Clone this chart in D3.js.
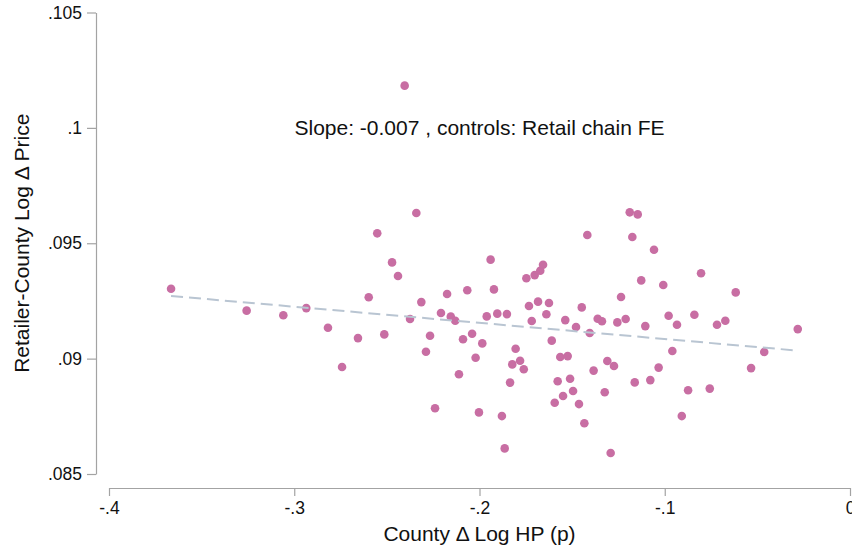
<!DOCTYPE html>
<html>
<head>
<meta charset="utf-8">
<script src="https://cdn.jsdelivr.net/npm/d3@7"></script>
<style>
  html, body { margin: 0; padding: 0; background: #ffffff; }
  svg { display: block; font-family: "Liberation Sans", Arial, sans-serif; }
</style>
</head>
<body>
<svg id="chart" width="852" height="551"></svg>
<script>
// County-level change in log house prices (x) vs retailer-county log price change (y)
const hpChange = [
  -0.3665, -0.3257, -0.3059, -0.2935, -0.2818, -0.2656, -0.2514, -0.2742, -0.2598, -0.2552,
  -0.2472, -0.2440, -0.2404, -0.2341, -0.2375, -0.2314, -0.2267, -0.2289, -0.2240, -0.2208,
  -0.2175, -0.2155, -0.2131, -0.2111, -0.2089, -0.2066, -0.2040, -0.2021, -0.2003, -0.1985,
  -0.1961, -0.1940, -0.1922, -0.1904, -0.1879, -0.1864, -0.1852, -0.1835, -0.1823, -0.1805,
  -0.1781, -0.1761, -0.1747, -0.1733, -0.1718, -0.1702, -0.1684, -0.1672, -0.1657, -0.1639,
  -0.1625, -0.1610, -0.1594, -0.1578, -0.1564, -0.1549, -0.1537, -0.1524, -0.1511, -0.1495,
  -0.1479, -0.1463, -0.1448, -0.1434, -0.1418, -0.1405, -0.1384, -0.1362, -0.1339, -0.1324,
  -0.1310, -0.1292, -0.1274, -0.1256, -0.1236, -0.1211, -0.1189, -0.1146, -0.1175, -0.1058,
  -0.0804, -0.1127, -0.1008, -0.0617, -0.1105, -0.0979, -0.0934, -0.0840, -0.0718, -0.0673,
  -0.0282, -0.0959, -0.0463, -0.1033, -0.0534, -0.1162, -0.1078, -0.0874, -0.0757, -0.0908
];
const priceChange = [
  0.09303, 0.09208, 0.09188, 0.09219, 0.09134, 0.09089, 0.09105, 0.08964, 0.09266, 0.09543,
  0.09417, 0.09358, 0.10183, 0.09631, 0.09172, 0.09245, 0.09099, 0.09030, 0.08785, 0.09198,
  0.09280, 0.09182, 0.09164, 0.08932, 0.09084, 0.09296, 0.09108, 0.09004, 0.08767, 0.09066,
  0.09183, 0.09429, 0.09300, 0.09195, 0.08751, 0.08611, 0.09193, 0.08896, 0.08975, 0.09043,
  0.08991, 0.08954, 0.09348, 0.09228, 0.09163, 0.09362, 0.09247, 0.09381, 0.09407, 0.09192,
  0.09241, 0.09078, 0.08809, 0.08902, 0.09007, 0.08838, 0.09167, 0.09011, 0.08913, 0.08860,
  0.09137, 0.08803, 0.09222, 0.08720, 0.09536, 0.09111, 0.08948, 0.09173, 0.09162, 0.08854,
  0.08990, 0.08591, 0.08968, 0.09157, 0.09267, 0.09172, 0.09634, 0.09625, 0.09527, 0.09472,
  0.09370, 0.09339, 0.09319, 0.09287, 0.09141, 0.09186, 0.09147, 0.09190, 0.09147, 0.09164,
  0.09128, 0.09033, 0.09029, 0.08961, 0.08959, 0.08897, 0.08907, 0.08863, 0.08870, 0.08751
];

// Fitted line (slope as reported in the annotation)
const fitSlope = -0.007;
const fitIntercept = 0.09015;

const xTicks = [-0.4, -0.3, -0.2, -0.1, 0];
const xTickLabels = ["-.4", "-.3", "-.2", "-.1", "0"];
const yTicks = [0.085, 0.09, 0.095, 0.1, 0.105];
const yTickLabels = [".085", ".09", ".095", ".1", ".105"];

const xTitle = "County \u0394 Log HP (p)";
const yTitle = "Retailer-County Log \u0394 Price";
const note = "Slope: " + fitSlope.toFixed(3) + " , controls: Retail chain FE";

const svg = d3.select("#chart");

const x = d3.scaleLinear().domain([-0.4, 0]).range([109, 850]);
const y = d3.scaleLinear().domain([0.085, 0.105]).range([474, 12.5]);

const axisColor = "#a3a3a3";
const yAxisX = 96;
const xAxisY = 488;

// y axis
const yAxis = d3.axisLeft(y)
  .tickValues(yTicks)
  .tickFormat((d, i) => yTickLabels[i])
  .tickSizeInner(9)
  .tickSizeOuter(0)
  .tickPadding(5);
const gy = svg.append("g").attr("transform", `translate(${yAxisX},0)`).call(yAxis);
gy.select(".domain").attr("stroke", axisColor).attr("stroke-width", 1.2);
gy.selectAll(".tick line").attr("stroke", axisColor).attr("stroke-width", 1.2);
gy.selectAll(".tick text")
  .attr("font-family", "Liberation Sans, Arial, sans-serif")
  .attr("font-size", 17.5)
  .attr("fill", "#111");

// x axis
const xAxis = d3.axisBottom(x)
  .tickValues(xTicks)
  .tickFormat((d, i) => xTickLabels[i])
  .tickSizeInner(8)
  .tickSizeOuter(0)
  .tickPadding(6);
const gx = svg.append("g").attr("transform", `translate(0,${xAxisY})`).call(xAxis);
gx.select(".domain").attr("stroke", axisColor).attr("stroke-width", 1.2);
gx.selectAll(".tick line").attr("stroke", axisColor).attr("stroke-width", 1.2);
gx.selectAll(".tick text")
  .attr("font-family", "Liberation Sans, Arial, sans-serif")
  .attr("font-size", 17.5)
  .attr("fill", "#111");

// axis titles
svg.append("text")
  .attr("x", (x.range()[0] + x.range()[1]) / 2)
  .attr("y", 541)
  .attr("text-anchor", "middle")
  .attr("font-size", 21)
  .attr("fill", "#111")
  .text(xTitle);

svg.append("text")
  .attr("transform", `translate(29,${(y.range()[0] + y.range()[1]) / 2}) rotate(-90)`)
  .attr("text-anchor", "middle")
  .attr("font-size", 21)
  .attr("fill", "#111")
  .text(yTitle);

// scatter points
const pts = hpChange.map((v, i) => ({ x: v, y: priceChange[i] }));
svg.append("g")
  .selectAll("circle")
  .data(pts)
  .join("circle")
  .attr("cx", d => x(d.x))
  .attr("cy", d => y(d.y))
  .attr("r", 4.3)
  .attr("fill", "#c86ea3");

// fitted line across the observed x range
const xr = d3.extent(hpChange);
const fitPts = xr.map(v => ({ x: v, y: fitIntercept + fitSlope * v }));
svg.append("path")
  .datum(fitPts)
  .attr("d", d3.line().x(d => x(d.x)).y(d => y(d.y)))
  .attr("fill", "none")
  .attr("stroke", "#b9c5d2")
  .attr("stroke-width", 2)
  .attr("stroke-dasharray", "12,6");

// annotation
svg.append("text")
  .attr("x", x(-0.2))
  .attr("y", y(0.1))
  .attr("dy", "0.35em")
  .attr("text-anchor", "middle")
  .attr("font-size", 21)
  .attr("fill", "#111")
  .text(note);
</script>
</body>
</html>
